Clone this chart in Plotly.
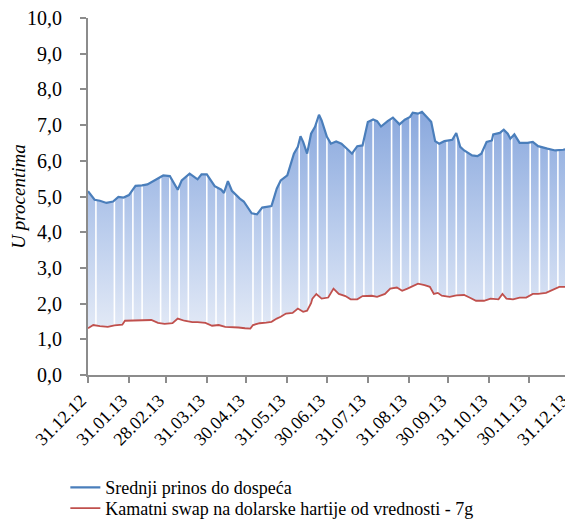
import plotly.graph_objects as go
import pandas as pd

# Srednji prinos do dospeća (blue)
blue_dates = ["2012-12-31","2013-01-05","2013-01-09","2013-01-14","2013-01-19","2013-01-23","2013-01-27","2013-01-31",
 "2013-02-05","2013-02-10","2013-02-14","2013-02-20","2013-02-26","2013-03-03","2013-03-05","2013-03-09","2013-03-12",
 "2013-03-18","2013-03-24","2013-03-27","2013-03-31","2013-04-06","2013-04-11","2013-04-13","2013-04-16","2013-04-19",
 "2013-04-25","2013-04-28","2013-05-04","2013-05-08","2013-05-12","2013-05-19","2013-05-23","2013-05-26","2013-05-31",
 "2013-06-05","2013-06-08","2013-06-10","2013-06-12","2013-06-15","2013-06-18","2013-06-21","2013-06-24","2013-06-26",
 "2013-06-30","2013-07-03","2013-07-07","2013-07-11","2013-07-16","2013-07-19","2013-07-23","2013-07-27","2013-07-31",
 "2013-08-04","2013-08-07","2013-08-10","2013-08-15","2013-08-19","2013-08-24","2013-08-28","2013-09-01","2013-09-03",
 "2013-09-07","2013-09-10","2013-09-14","2013-09-17","2013-09-20","2013-09-23","2013-09-27","2013-10-03","2013-10-06",
 "2013-10-09","2013-10-12","2013-10-18","2013-10-22","2013-10-25","2013-10-29","2013-11-02","2013-11-03","2013-11-08",
 "2013-11-11","2013-11-14","2013-11-16","2013-11-19","2013-11-23","2013-11-29","2013-12-03","2013-12-07","2013-12-14",
 "2013-12-20","2013-12-26","2013-12-31"]
blue_values = [5.15,4.91,4.88,4.82,4.86,4.99,4.97,5.04,
 5.30,5.31,5.34,5.47,5.59,5.57,5.45,5.19,5.45,
 5.64,5.48,5.62,5.62,5.29,5.19,5.10,5.43,5.16,
 4.94,4.86,4.53,4.50,4.69,4.73,5.22,5.45,5.59,
 6.20,6.39,6.69,6.53,6.20,6.76,6.95,7.29,7.13,
 6.67,6.48,6.54,6.48,6.31,6.20,6.41,6.43,7.09,
 7.16,7.11,6.96,7.11,7.21,7.02,7.15,7.23,7.35,
 7.32,7.37,7.21,7.09,6.55,6.48,6.55,6.59,6.78,
 6.39,6.29,6.15,6.13,6.20,6.53,6.57,6.74,6.78,
 6.87,6.76,6.62,6.74,6.50,6.50,6.53,6.41,6.34,
 6.29,6.31,6.34]

# Kamatni swap na dolarske hartije od vrednosti - 7g (red)
red_dates = ["2012-12-31","2013-01-04","2013-01-09","2013-01-15","2013-01-20","2013-01-26","2013-01-28","2013-02-02",
 "2013-02-10","2013-02-17","2013-02-22","2013-02-27","2013-03-05","2013-03-09","2013-03-14","2013-03-20","2013-03-24",
 "2013-03-30","2013-04-04","2013-04-09","2013-04-14","2013-04-19","2013-04-24","2013-04-29","2013-05-03","2013-05-05",
 "2013-05-10","2013-05-15","2013-05-19","2013-05-23","2013-05-26","2013-05-30","2013-06-04","2013-06-08","2013-06-12",
 "2013-06-15","2013-06-18","2013-06-19","2013-06-22","2013-06-26","2013-07-01","2013-07-05","2013-07-09","2013-07-14",
 "2013-07-18","2013-07-23","2013-07-27","2013-08-03","2013-08-07","2013-08-13","2013-08-17","2013-08-22","2013-08-26",
 "2013-08-30","2013-09-03","2013-09-07","2013-09-12","2013-09-16","2013-09-19","2013-09-22","2013-09-25","2013-10-01",
 "2013-10-06","2013-10-12","2013-10-16","2013-10-21","2013-10-27","2013-11-01","2013-11-07","2013-11-10","2013-11-13",
 "2013-11-18","2013-11-23","2013-11-28","2013-12-03","2013-12-07","2013-12-13","2013-12-18","2013-12-23","2013-12-28",
 "2013-12-31"]
red_values = [1.31,1.40,1.37,1.35,1.39,1.41,1.52,1.52,
 1.54,1.54,1.46,1.43,1.45,1.58,1.52,1.48,1.48,
 1.46,1.38,1.40,1.35,1.35,1.33,1.31,1.30,1.40,
 1.45,1.47,1.49,1.58,1.63,1.72,1.74,1.86,1.77,
 1.80,2.01,2.14,2.27,2.14,2.17,2.42,2.27,2.21,
 2.12,2.12,2.21,2.22,2.19,2.27,2.42,2.45,2.36,
 2.42,2.49,2.56,2.52,2.47,2.27,2.30,2.22,2.19,
 2.23,2.24,2.17,2.08,2.08,2.14,2.12,2.27,2.14,
 2.12,2.17,2.17,2.27,2.27,2.30,2.38,2.47,2.47,
 2.43]

tick_dates = ["2012-12-31","2013-01-31","2013-02-28","2013-03-31","2013-04-30","2013-05-31","2013-06-30",
              "2013-07-31","2013-08-31","2013-09-30","2013-10-31","2013-11-30","2013-12-31"]
tick_labels = ["31.12.12","31.01.13","28.02.13","31.03.13","30.04.13","31.05.13","30.06.13",
               "31.07.13","31.08.13","30.09.13","31.10.13","30.11.13","31.12.13"]
y_ticks = [0,1,2,3,4,5,6,7,8,9,10]

# weekly separator lines (Sundays, every fifth one omitted)
sundays = pd.date_range("2013-01-06", "2013-12-29", freq="W-SUN")
sep_dates = [d for i, d in enumerate(sundays) if i % 5 != 1]

BLUE = "#4a7ebb"
RED = "#c0504d"
FONT = "'Liberation Serif', 'Times New Roman', 'DejaVu Serif', serif"

fig = go.Figure()
# base of fill
fig.add_trace(go.Scatter(x=red_dates, y=red_values, mode="lines", line=dict(width=0, color=RED),
                         showlegend=False, hoverinfo="skip"))
# gradient fill between series
fig.add_trace(go.Scatter(x=blue_dates, y=blue_values, mode="lines", line=dict(width=0, color=BLUE),
                         fill="tonexty",
                         fillgradient=dict(type="vertical",
                                           colorscale=[[0, "rgb(226,233,246)"], [0.45, "rgb(188,206,237)"], [1, "rgb(140,170,222)"]],
                                           start=1.3, stop=7.2),
                         showlegend=False, hoverinfo="skip"))
# white separator lines
sx, sy = [], []
for d in sep_dates:
    sx += [d, d, None]
    sy += [0.02, 9.98, None]
fig.add_trace(go.Scatter(x=sx, y=sy, mode="lines", line=dict(color="white", width=1.6),
                         showlegend=False, hoverinfo="skip"))
# series lines on top
fig.add_trace(go.Scatter(x=blue_dates, y=blue_values, mode="lines", name="Srednji prinos do dospeća",
                         line=dict(color=BLUE, width=2.2), legend="legend"))
fig.add_trace(go.Scatter(x=red_dates, y=red_values, mode="lines",
                         name="Kamatni swap na dolarske hartije od vrednosti - 7g",
                         line=dict(color=RED, width=1.8), legend="legend2"))

leg_common = dict(xanchor="left", yanchor="top", font=dict(size=18, family=FONT),
                  itemwidth=30, bgcolor="rgba(0,0,0,0)")

# page body adds an 8px offset, so the figure is 8px smaller on each axis
fig.update_layout(
    width=565, height=513,
    margin=dict(l=80, r=3, t=9.5, b=146, autoexpand=False),
    plot_bgcolor="white", paper_bgcolor="white",
    separators=",.",
    font=dict(family=FONT, size=18, color="black"),
    showlegend=True,
    legend=dict(x=-0.047, y=-0.264, **leg_common),
    legend2=dict(x=-0.047, y=-0.322, **leg_common),
    hovermode=False,
)
fig.update_xaxes(
    type="date", range=["2012-12-31", "2013-12-31 04:00"], automargin=False,
    tickvals=tick_dates, ticktext=tick_labels, tickangle=-45, ticklabeloverflow="allow",
    ticklabelshift=-7,
    showgrid=False, zeroline=False, showline=True, linecolor="#8c8c8c", linewidth=2,
    ticks="outside", ticklen=6, tickcolor="#8c8c8c", tickwidth=1.5,
    tickfont=dict(size=18, family=FONT),
)
fig.update_yaxes(
    range=[0, 10], tickvals=y_ticks, tickformat=".1f", automargin=False, ticklabeloverflow="allow",
    showgrid=False, zeroline=False, showline=True, linecolor="#8c8c8c", linewidth=2,
    ticks="outside", ticklen=6, tickcolor="#8c8c8c", tickwidth=1.5, ticklabelstandoff=14,
    tickfont=dict(size=20, family=FONT),
    title=dict(text="<i>U procentima</i>", font=dict(size=19, family=FONT), standoff=0),
)
fig.write_html("out.html")
